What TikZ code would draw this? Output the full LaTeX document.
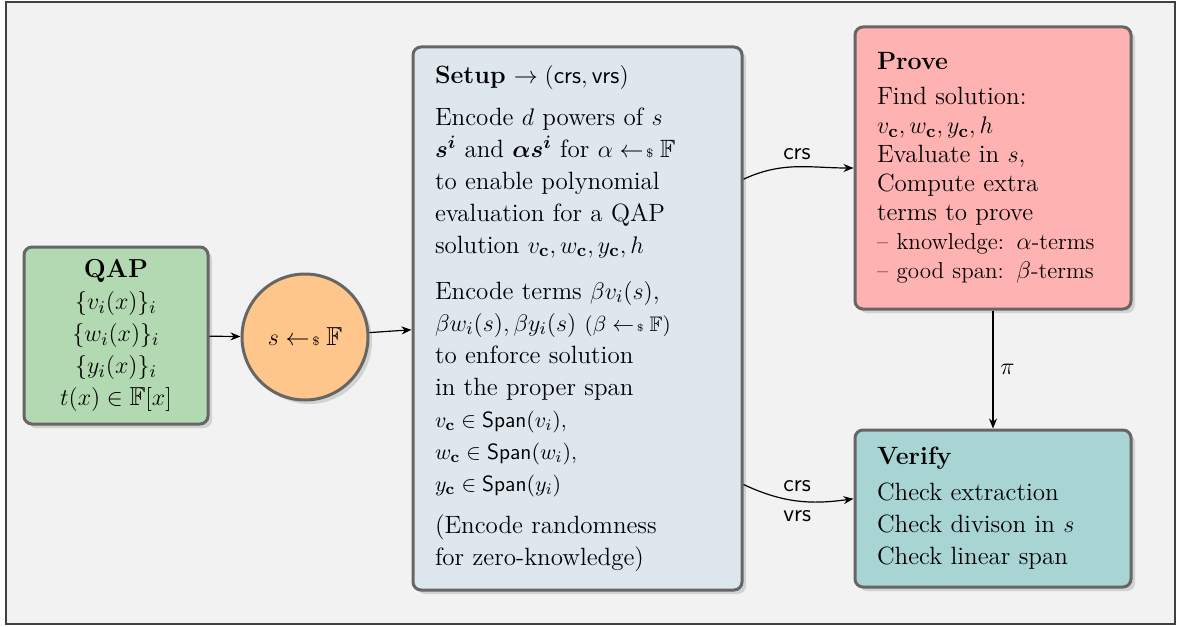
\documentclass[tikz,border=0pt]{standalone}
\usepackage{amsmath}
\usepackage{amsfonts}
\usepackage{amssymb}
\usepackage{xcolor}
\usepackage{tikz}
\usetikzlibrary{positioning,arrows.meta,shadows}

\definecolor{bgcol}{HTML}{F2F2F2}
\definecolor{framecol}{HTML}{404040}
\definecolor{bordcol}{HTML}{666666}
\definecolor{shadcol}{HTML}{D2D2D2}
\definecolor{qapcol}{HTML}{B3D9B3}
\definecolor{circcol}{HTML}{FFC68C}
\definecolor{setupcol}{HTML}{DEE6EE}
\definecolor{provecol}{HTML}{FFB2B2}
\definecolor{verifycol}{HTML}{A8D4D4}

\newcommand{\smpl}{\mathrel{\leftarrow\mkern-3mu{\scriptscriptstyle\$}}}
\newcommand{\cvec}[1]{#1_{\mathbf{c}}}
\newcommand{\smalltxt}{\fontsize{11}{16}\selectfont}

\begin{document}
\begin{tikzpicture}[x=0.5pt, y=-0.5pt,
				box/.style={draw=bordcol, line width=1.5pt, rounded corners=4pt, inner xsep=11pt,
					drop shadow={shadow xshift=2pt, shadow yshift=-2pt, fill=shadcol, opacity=1},
					font=\fontsize{12.5}{16}\selectfont},
				stepbox/.style={box, align=left, minimum width=138pt},
				arr/.style={-{Stealth[length=5pt, width=4pt]}, semithick},
				lbl/.style={font=\sffamily\large}
				]
				
				% ==========================================
				% khung nen
				% ==========================================
				\useasboundingbox (0,0) rectangle (1177,626);
				\fill[bgcol] (6,2) rectangle (1175,624);
				\draw[framecol, line width=1pt] (6,2) rectangle (1175,624);
				
				% -- QAP va lay mau s --
				\node[box, fill=qapcol, minimum width=92pt, minimum height=88.5pt, align=center,
					font=\fontsize{13}{16}\selectfont] (qap) at (116,335.5)
					{\textbf{QAP}\\ $\{v_i(x)\}_i$\\ $\{w_i(x)\}_i$\\ $\{y_i(x)\}_i$\\ $t(x) \in \mathbb{F}[x]$};
				\node[box, circle, fill=circcol, minimum size=63pt, inner sep=0pt,
					font=\fontsize{13}{16}\selectfont] (circ) at (305,337)
					{$s \smpl \mathbb{F}$};
				
				% -- Setup --
				\node[box, fill=setupcol, align=left, minimum width=164.5pt, minimum height=271.5pt,
					text width=142.5pt] (setup) at (577.5,318.5)
					{\textbf{Setup} $\to (\mathsf{crs}, \mathsf{vrs})$\\[5pt]
					Encode $d$ powers of $s$\\
					$\boldsymbol{s^i}$ and $\boldsymbol{\alpha s^i}$ for $\alpha \smpl \mathbb{F}$\\
					to enable polynomial\\
					evaluation for a QAP\\
					solution $\cvec{v}, \cvec{w}, \cvec{y}, h$\\[7pt]
					Encode terms $\beta v_i(s)$,\\
					$\beta w_i(s), \beta y_i(s)$ {\fontsize{10.5}{16}\selectfont ($\beta \smpl \mathbb{F}$)}\\
					to enforce solution\\
					in the proper span\\
					{\smalltxt $\cvec{v} \in \textsf{Span}(v_i)$,}\\
					{\smalltxt $\cvec{w} \in \textsf{Span}(w_i)$,}\\
					{\smalltxt $\cvec{y} \in \textsf{Span}(y_i)$}\\[5pt]
					(Encode randomness\\
					for zero-knowledge)};
				
				% -- Prove / Verify --
				\node[stepbox, fill=provecol, minimum height=141pt, text width=116pt,
					font=\fontsize{12.5}{14.5}\selectfont] (prove) at (993,168)
					{\textbf{Prove}\\[3pt]
					Find solution:\\
					$\cvec{v}, \cvec{w}, \cvec{y}, h$\\
					Evaluate in $s$,\\
					Compute extra\\
					terms to prove\\
					{\fontsize{11.5}{14.5}\selectfont -- knowledge: $\alpha$-terms}\\
					{\fontsize{11.5}{14.5}\selectfont -- good span: $\beta$-terms}};
				\node[stepbox, fill=verifycol, minimum height=78.5pt, text width=116pt] (verify) at (993,508.5)
					{\textbf{Verify}\\[2pt]
					Check extraction\\
					Check divison in $s$\\
					Check linear span};
				
				% -- mui ten --
				\draw[arr] (qap) -- (circ);
				\draw[arr] (circ) -- (setup);
				\draw[arr] (setup.40) to[out=25, in=180] node[lbl, above] {crs} (prove.west);
				\draw[arr] (setup.-45) to[out=-25, in=188] node[lbl, align=center] {crs\\[1pt]vrs} (verify.176);
				\draw[arr] (prove) -- node[right, font=\large] {$\pi$} (verify);
				
			\end{tikzpicture}
\end{document}
